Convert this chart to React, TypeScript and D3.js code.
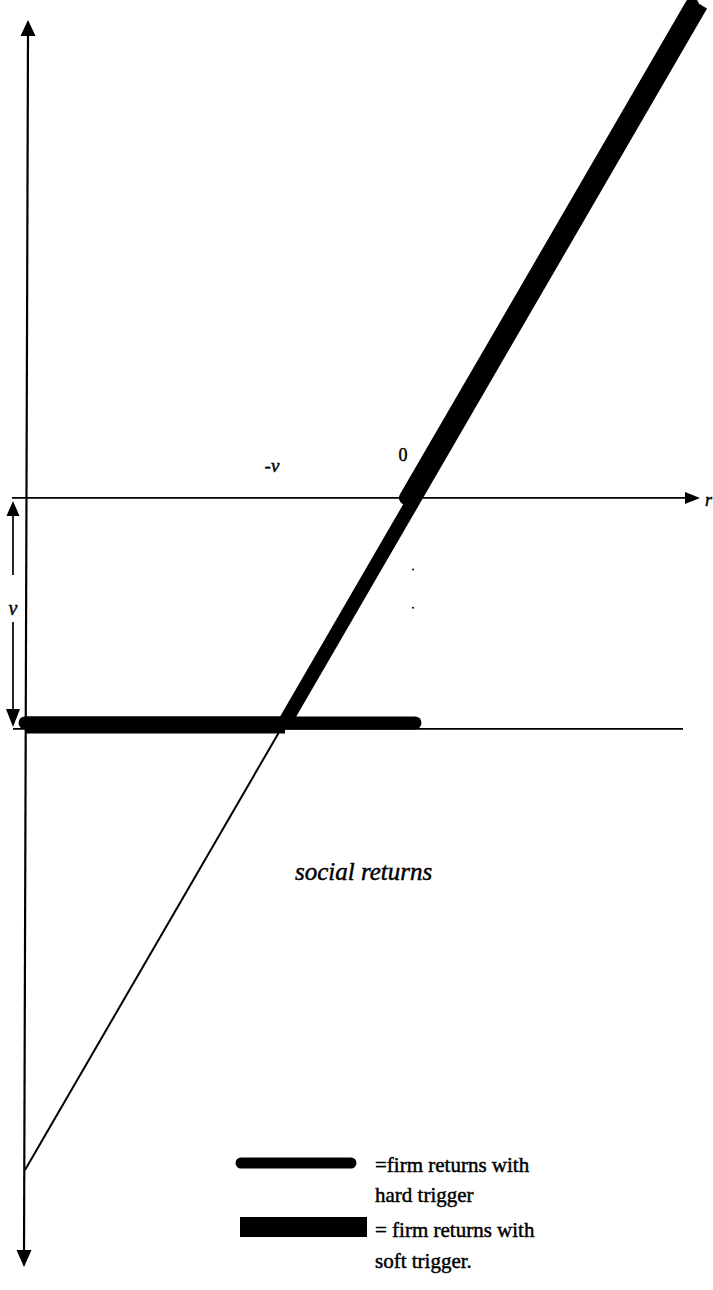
import React from 'react';
import * as d3 from 'd3';

// ---- data (in units of v) ----
const V = 1;
const domainR = [-3, 2.2];
const socialReturnsR = [-3, 2.2];
const socialReturnsY = [-3, 2.2];
const softFlatR = [-3, -1];
const softFlatY = [-1, -1];
const softRiseR = [-1, 2.2];
const softRiseY = [-1, 2.2];
const hardFlatR = [-3, 0];
const hardFlatY = [-1, -1];
const hardRiseR = [0, 2.2];
const hardRiseY = [0, 2.2];
const tickLabels = ['-v', '0'];
const tickValues = [-V, 0];
const strayDotsY = [-0.32, -0.49];
const centerLabel = 'social returns';
const legendHard = ['=firm returns with', 'hard trigger'];
const legendSoft = ['= firm returns with', 'soft trigger.'];

const W = 713;
const H = 1290;
const FONT = "'Liberation Serif', 'Times New Roman', serif";

export default function App() {
  const x = d3.scaleLinear().domain(domainR).range([25, 701]);
  const y = d3.scaleLinear().domain(domainR).range([1170, 5]);
  const line = d3
    .line<[number, number]>()
    .x((d) => x(d[0]))
    .y((d) => y(d[1]));
  const pts = (rs: number[], ys: number[]) => rs.map((r, i) => [r, ys[i]] as [number, number]);

  const y0 = y(0);
  const yv = y(-V);

  const vTop = 20;
  const vBot = 1267;
  const axTopX = 28;
  const axBotX = 24;
  const hLeft = 12;
  const hRight = 700;

  const tri = (a: [number, number], b: [number, number], c: [number, number]) =>
    `M${a[0]},${a[1]}L${b[0]},${b[1]}L${c[0]},${c[1]}Z`;

  const vx = 13;
  const txt = { fill: '#000', stroke: '#000', strokeWidth: 0.45, style: { fontFamily: FONT } } as const;
  return (
    <svg
      width={W}
      height={H}
      style={{ position: 'absolute', left: 0, top: 0, background: '#fff', fontFamily: FONT }}
    >
      <rect width={W} height={H} fill="#fff" />
      {/* vertical axis */}
      <line x1={axTopX} y1={vTop + 12} x2={axBotX} y2={vBot - 12} stroke="#000" strokeWidth={2.2} />
      <path d={tri([axTopX, vTop], [axTopX - 7.5, vTop + 16], [axTopX + 7.5, vTop + 16])} fill="#000" />
      <path d={tri([axBotX, vBot], [axBotX - 7.5, vBot - 17], [axBotX + 7.5, vBot - 17])} fill="#000" />

      {/* horizontal axis */}
      <line x1={hLeft} y1={y0} x2={hRight - 10} y2={y0} stroke="#000" strokeWidth={1.7} />
      <path d={tri([hRight, y0], [hRight - 15, y0 - 6], [hRight - 15, y0 + 6])} fill="#000" />
      <text x={705} y={y0 + 8} fontSize={18} fontStyle="italic" {...txt}>r</text>

      {/* -v reference line */}
      <line x1={13} y1={yv + 7} x2={683} y2={yv + 7} stroke="#000" strokeWidth={1.6} />

      {/* tick labels */}
      <text x={x(tickValues[0]) - 13} y={y0 - 26} fontSize={19} fontStyle="italic" textAnchor="middle" {...txt}>
        {tickLabels[0]}
      </text>
      <text x={x(tickValues[1]) - 12} y={y0 - 37} fontSize={18} textAnchor="middle" {...txt}>
        {tickLabels[1]}
      </text>

      {/* v distance arrow */}
      <line x1={vx} y1={y0 + 16} x2={vx} y2={575} stroke="#000" strokeWidth={1.7} />
      <line x1={vx} y1={622} x2={vx} y2={yv - 12} stroke="#000" strokeWidth={1.7} />
      <path d={tri([vx, y0 + 3], [vx - 6.5, y0 + 18], [vx + 6.5, y0 + 18])} fill="#000" />
      <path d={tri([vx, yv + 5], [vx - 7, yv - 13], [vx + 7, yv - 13])} fill="#000" />
      <text x={vx} y={(y0 + yv) / 2 + 5} fontSize={20} fontStyle="italic" textAnchor="middle" {...txt}>v</text>

      {/* social returns (thin) */}
      <path d={line(pts(socialReturnsR, socialReturnsY)) || ''} fill="none" stroke="#000" strokeWidth={2} />

      {/* soft trigger */}
      <path
        d={line(pts(softFlatR, softFlatY)) || ''}
        fill="none"
        stroke="#000"
        strokeWidth={17}
        transform="translate(0,3)"
      />
      <path d={line(pts(softRiseR, softRiseY)) || ''} fill="none" stroke="#000" strokeWidth={14} />

      {/* hard trigger */}
      <path
        d={line(pts(hardFlatR, hardFlatY)) || ''}
        fill="none"
        stroke="#000"
        strokeWidth={13}
        strokeLinecap="round"
        transform="translate(0,1)"
      />
      <path
        d={line(pts(hardRiseR, hardRiseY)) || ''}
        fill="none"
        stroke="#000"
        strokeWidth={14}
        strokeLinecap="round"
        transform="translate(-9,0)"
      />

      {/* stray dots */}
      {strayDotsY.map((d, i) => (
        <circle key={i} cx={x(0) - 2} cy={y(d)} r={1} fill="#000" />
      ))}

      {/* center label */}
      <text x={295} y={880} fontSize={25} fontStyle="italic" {...txt}>{centerLabel}</text>

      {/* legend */}
      <line x1={241} y1={1163} x2={351} y2={1163} stroke="#000" strokeWidth={11} strokeLinecap="round" />
      <text x={375} y={1172} fontSize={21} {...txt}>{legendHard[0]}</text>
      <text x={375} y={1202} fontSize={21} {...txt}>{legendHard[1]}</text>
      <rect x={240} y={1217} width={127} height={20} fill="#000" />
      <text x={375} y={1237} fontSize={21} {...txt}>{legendSoft[0]}</text>
      <text x={375} y={1268} fontSize={21} {...txt}>{legendSoft[1]}</text>
    </svg>
  );
}
